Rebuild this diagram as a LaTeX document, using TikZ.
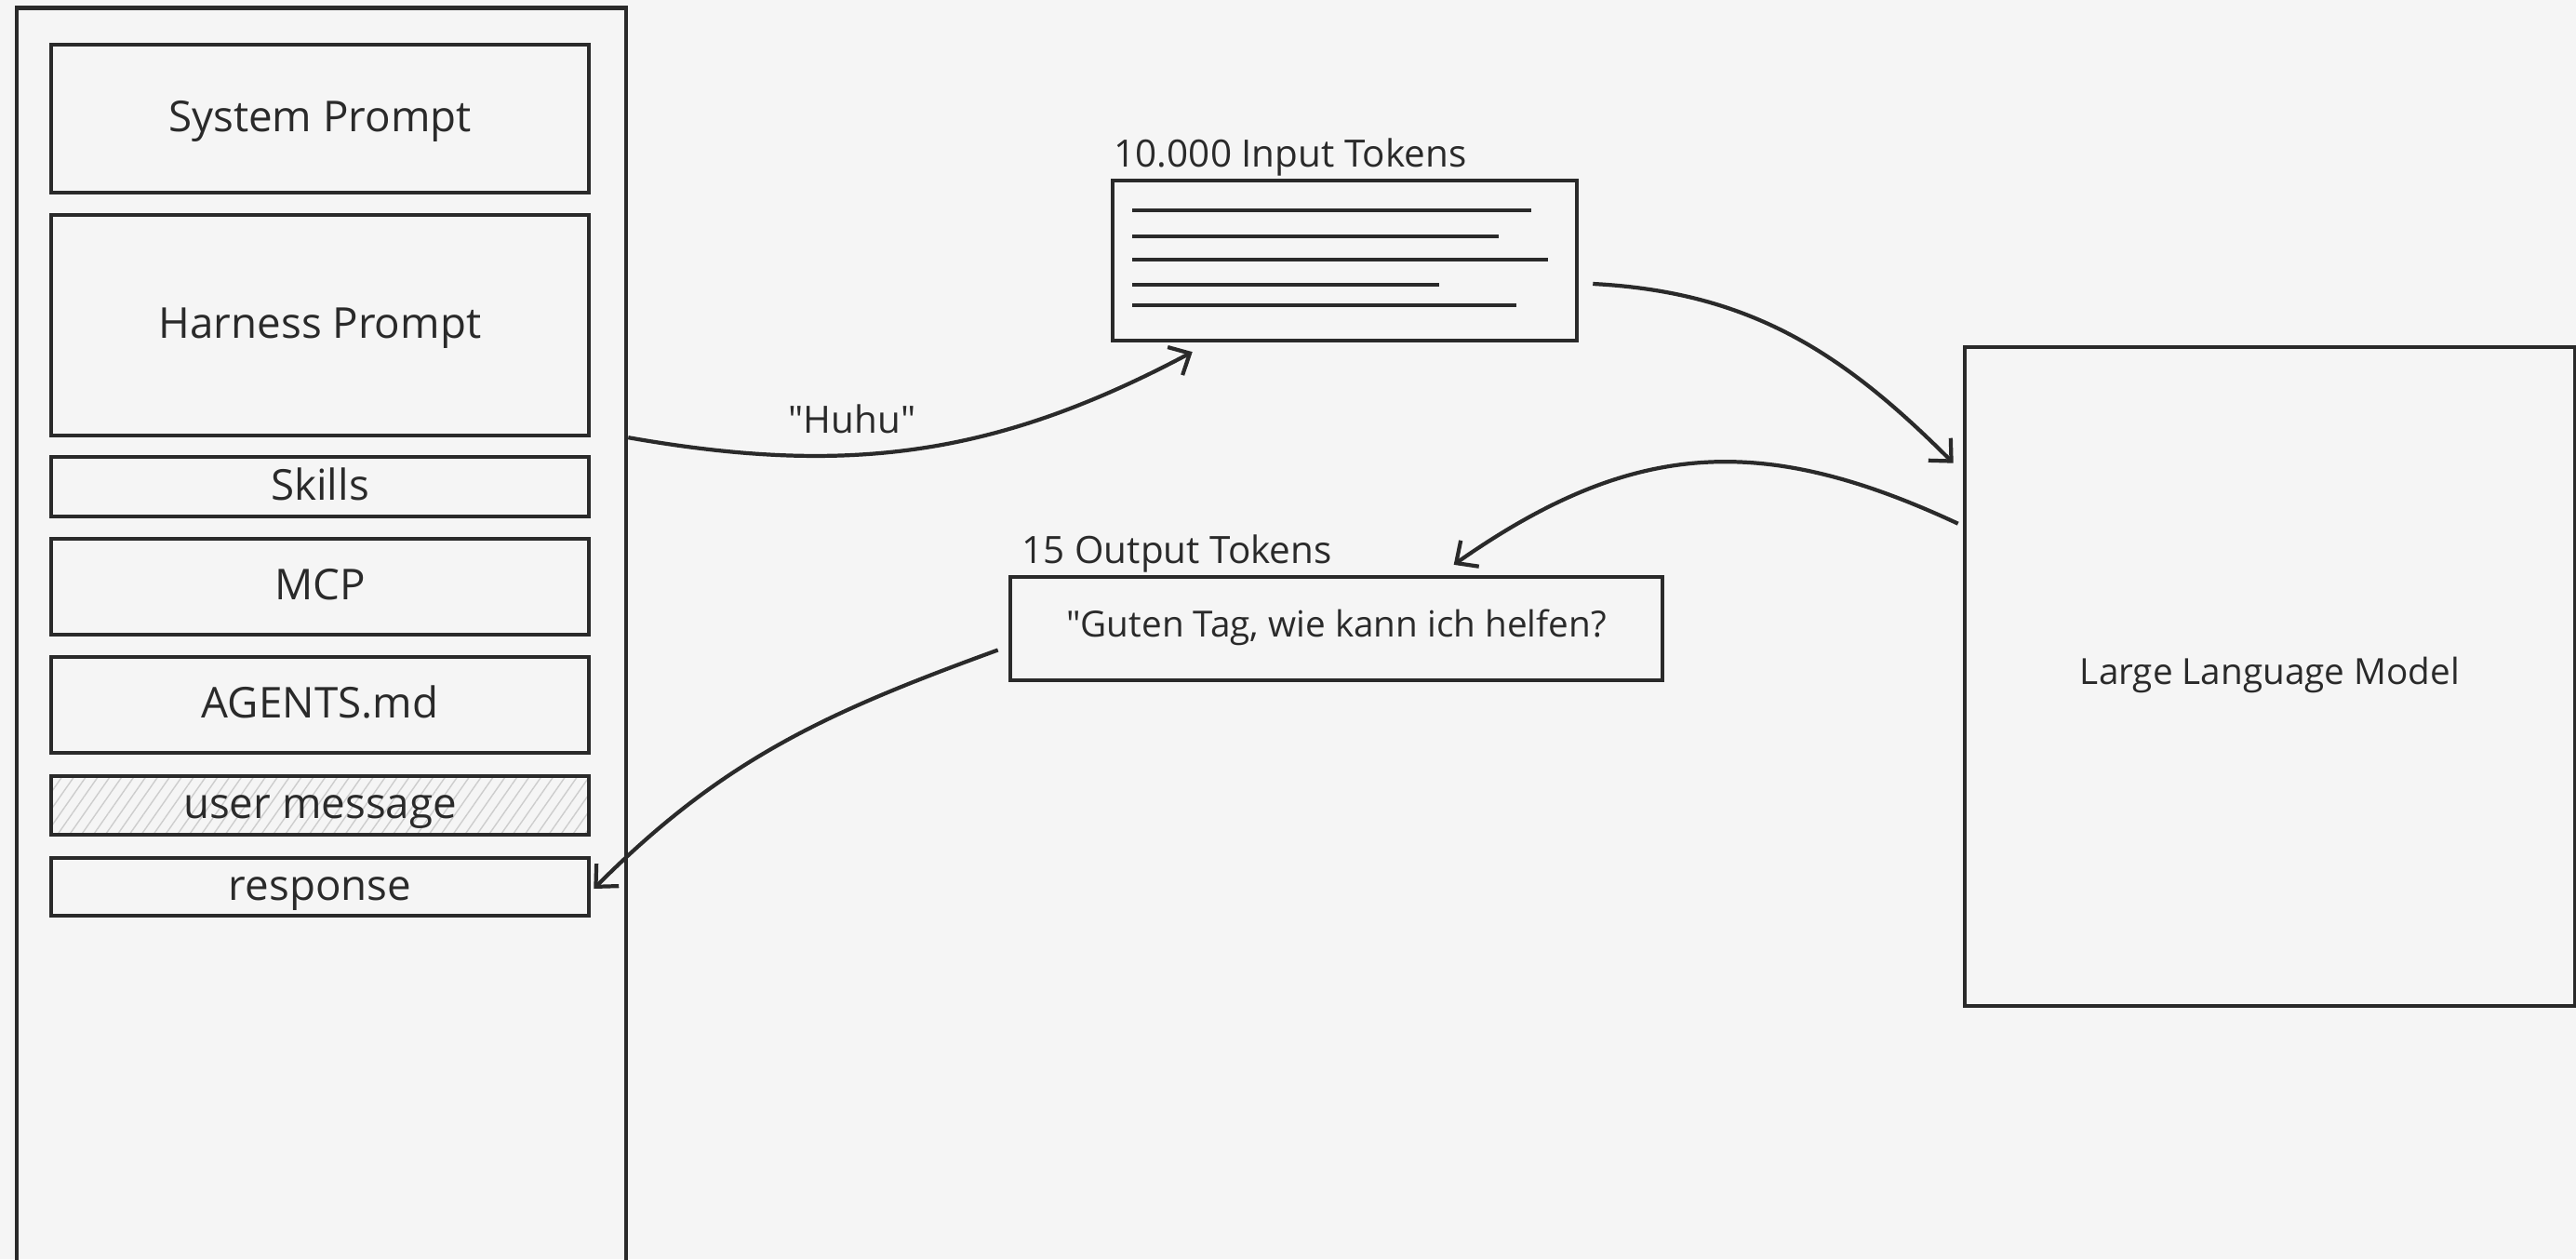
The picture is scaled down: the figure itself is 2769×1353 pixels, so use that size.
\documentclass[tikz,border=0pt]{standalone}
\usepackage{fontspec}
\setmainfont{Open Sans}[Ligatures=TeXOff]
\usetikzlibrary{arrows.meta,patterns.meta}
\definecolor{paper}{RGB}{245,245,245}
\definecolor{ink}{RGB}{42,42,42}
\definecolor{hatch}{RGB}{205,205,205}

\begin{document}
\begin{tikzpicture}[x=0.01cm,y=0.01cm,
    box/.style={draw=ink,line width=1.2pt,inner sep=0pt,text=ink,text height=0.62em,text depth=0.12em,font=\fontsize{11}{13}\selectfont},
    slot/.style={box,minimum width=5.78cm,text height=0.85em,text depth=0.05em,font=\fontsize{13}{15}\selectfont},
    lbl/.style={inner sep=0pt,text=ink,font=\fontsize{11.5}{13}\selectfont},
    flow/.style={draw=ink,line width=1.2pt,-{Straight Barb[length=1.8mm,width=3.4mm,line width=1.2pt]}}]
            \fill[paper] (0,0) rectangle (2769,1353);
            \useasboundingbox (0,0) rectangle (2769,1353);
            \clip (0,0) rectangle (2769,1353);
            \node[box,minimum width=6.55cm,minimum height=13.88cm] at (345.5,650) (ctx) {};
            \node[slot,minimum height=1.59cm] at (344,1225.5) (sys) {System Prompt};
            \node[slot,minimum height=2.37cm] at (344,1003.5) (harness) {Harness Prompt};
            \node[slot,minimum height=0.64cm] at (344,830) (skills) {Skills};
            \node[slot,minimum height=1.03cm] at (344,722.5) (mcp) {MCP};
            \node[slot,minimum height=1.03cm] at (344,595.5) (agents) {AGENTS.md};
            \node[slot,minimum height=0.63cm,pattern={Lines[angle=55,distance=3pt,line width=0.4pt]},pattern color=hatch] at (344,487.5) (usermsg) {user message};
            \node[slot,minimum height=0.62cm] at (344,400) (resp) {response};
            \node[box,minimum width=4.99cm,minimum height=1.72cm] at (1445.5,1073) (intok) {};
            \node[lbl,anchor=base west] at (1197,1173) (inlbl) {10.000 Input Tokens};
            \foreach \y/\e in {1127/1646,1099/1611,1074/1664,1047/1547,1025/1630}
                \draw[ink,line width=1.2pt] (1217,\y) -- (\e,\y);
            \node[box,minimum width=7.01cm,minimum height=1.11cm] at (1436.5,677.5) (outtok) {"Guten Tag, wie kann ich helfen?};
            \node[lbl,anchor=base west] at (1098,748) (outlbl) {15 Output Tokens};
            \node[box,minimum width=6.56cm,minimum height=7.08cm] at (2440,626) (llm) {Large Language Model};
            \node[lbl] at (916,903) (huhu) {"Huhu"};
            \draw[flow] (ctx.east |- harness.south) to[out=-10,in=208] ([shift={(88,-10)}]intok.south west);
            \draw[flow] ([shift={(15,-25)}]intok.east) to[out=-3,in=135] ([shift={(-10,-127)}]llm.north west);
            \draw[flow] ([shift={(-5,-192)}]llm.north west) to[out=155,in=35,looseness=1.1] ([shift={(479,11)}]outtok.north west);
            \draw[flow] ([shift={(-11,-23)}]outtok.west) to[out=200,in=45] ([shift={(3,-2)}]resp.east);
        \end{tikzpicture}
\end{document}
